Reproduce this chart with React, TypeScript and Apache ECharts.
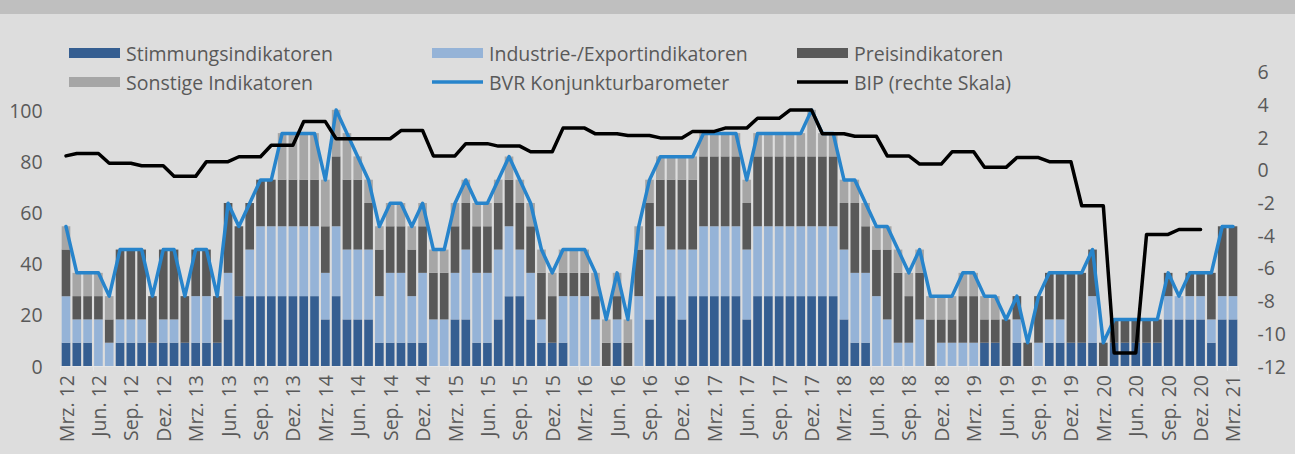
import React, { useEffect, useRef } from "react";
import * as echarts from "echarts";

// ---- categories (monthly, Mrz. 12 .. Mrz. 21) ----
const MONTH_NAMES = ["Jan.", "Feb.", "Mrz.", "Apr.", "Mai", "Jun.", "Jul.", "Aug.", "Sep.", "Okt.", "Nov.", "Dez."];
const START_MONTH = 2; // Mrz.
const START_YEAR = 12;
const N_MONTHS = 109;
const categories: string[] = [];
for (let k = 0; k < N_MONTHS; k++) {
  const m = (START_MONTH + k) % 12;
  const y = START_YEAR + Math.floor((START_MONTH + k) / 12);
  categories.push(`${MONTH_NAMES[m]} ${y}`);
}

// ---- bar components (share of indicators, %) ----
const stimmung = [
  9.1, 9.1, 9.1, 0, 0, 9.1, 9.1, 9.1, 9.1, 9.1,
  9.1, 9.1, 9.1, 9.1, 9.1, 18.2, 27.3, 27.3, 27.3, 27.3,
  27.3, 27.3, 27.3, 27.3, 18.2, 27.3, 18.2, 18.2, 18.2, 9.1,
  9.1, 9.1, 9.1, 9.1, 0, 0, 18.2, 18.2, 9.1, 9.1,
  18.2, 27.3, 27.3, 18.2, 9.1, 9.1, 9.1, 0, 0, 0,
  0, 9.1, 0, 0, 18.2, 27.3, 27.3, 18.2, 27.3, 27.3,
  27.3, 27.3, 27.3, 18.2, 27.3, 27.3, 27.3, 27.3, 27.3, 27.3,
  27.3, 27.3, 18.2, 9.1, 9.1, 0, 0, 0, 0, 0,
  0, 0, 0, 0, 0, 9.1, 9.1, 0, 9.1, 0,
  0, 9.1, 9.1, 9.1, 9.1, 9.1, 0, 9.1, 9.1, 9.1,
  9.1, 9.1, 18.2, 18.2, 18.2, 18.2, 9.1, 18.2, 18.2,
];
const industrie = [
  18.2, 9.1, 9.1, 18.2, 9.1, 9.1, 9.1, 9.1, 0, 9.1,
  9.1, 0, 18.2, 18.2, 0, 18.2, 0, 18.2, 27.3, 27.3,
  27.3, 27.3, 27.3, 27.3, 18.2, 27.3, 27.3, 27.3, 27.3, 18.2,
  27.3, 27.3, 18.2, 27.3, 18.2, 18.2, 18.2, 27.3, 27.3, 27.3,
  27.3, 27.3, 18.2, 18.2, 9.1, 0, 18.2, 27.3, 27.3, 18.2,
  0, 9.1, 0, 27.3, 27.3, 27.3, 18.2, 27.3, 18.2, 27.3,
  27.3, 27.3, 27.3, 27.3, 27.3, 27.3, 27.3, 27.3, 27.3, 27.3,
  27.3, 27.3, 27.3, 27.3, 27.3, 27.3, 18.2, 9.1, 9.1, 18.2,
  0, 9.1, 9.1, 9.1, 9.1, 0, 0, 0, 9.1, 0,
  9.1, 9.1, 9.1, 0, 0, 18.2, 0, 0, 0, 0,
  0, 0, 9.1, 9.1, 9.1, 9.1, 9.1, 9.1, 9.1,
];
const preis = [
  18.2, 9.1, 9.1, 9.1, 9.1, 27.3, 27.3, 27.3, 18.2, 27.3,
  27.3, 18.2, 18.2, 18.2, 18.2, 27.3, 27.3, 18.2, 18.2, 18.2,
  18.2, 18.2, 18.2, 18.2, 18.2, 27.3, 27.3, 27.3, 18.2, 18.2,
  18.2, 18.2, 18.2, 18.2, 18.2, 18.2, 18.2, 18.2, 18.2, 18.2,
  18.2, 18.2, 18.2, 18.2, 18.2, 18.2, 9.1, 9.1, 9.1, 9.1,
  9.1, 9.1, 9.1, 18.2, 18.2, 18.2, 27.3, 27.3, 27.3, 27.3,
  27.3, 27.3, 27.3, 18.2, 27.3, 27.3, 27.3, 27.3, 27.3, 27.3,
  27.3, 27.3, 18.2, 27.3, 18.2, 18.2, 27.3, 27.3, 18.2, 18.2,
  18.2, 9.1, 9.1, 18.2, 18.2, 9.1, 9.1, 18.2, 9.1, 9.1,
  18.2, 18.2, 18.2, 27.3, 27.3, 18.2, 9.1, 9.1, 9.1, 9.1,
  9.1, 9.1, 9.1, 0, 9.1, 9.1, 18.2, 27.3, 27.3,
];
const sonstige = [
  9.1, 9.1, 9.1, 9.1, 9.1, 0, 0, 0, 0, 0,
  0, 0, 0, 0, 0, 0, 0, 0, 0, 0,
  18.2, 18.2, 18.2, 18.2, 18.2, 18.2, 18.2, 9.1, 9.1, 9.1,
  9.1, 9.1, 9.1, 9.1, 9.1, 9.1, 9.1, 9.1, 9.1, 9.1,
  9.1, 9.1, 9.1, 9.1, 9.1, 9.1, 9.1, 9.1, 9.1, 9.1,
  9.1, 9.1, 9.1, 9.1, 9.1, 9.1, 9.1, 9.1, 9.1, 9.1,
  9.1, 9.1, 9.1, 9.1, 9.1, 9.1, 9.1, 9.1, 9.1, 18.2,
  9.1, 9.1, 9.1, 9.1, 9.1, 9.1, 9.1, 9.1, 9.1, 9.1,
  9.1, 9.1, 9.1, 9.1, 9.1, 9.1, 9.1, 0, 0, 0,
  0, 0, 0, 0, 0, 0, 0, 0, 0, 0,
  0, 0, 0, 0, 0, 0, 0, 0, 0,
];

// ---- BVR Konjunkturbarometer (left scale) ----
const bvr = [
  54.5, 36.4, 36.4, 36.4, 27.3, 45.5, 45.5, 45.5, 27.3, 45.5,
  45.5, 27.3, 45.5, 45.5, 27.3, 63.6, 54.5, 63.6, 72.7, 72.7,
  90.9, 90.9, 90.9, 90.9, 72.7, 100, 90.9, 81.8, 72.7, 54.5,
  63.6, 63.6, 54.5, 63.6, 45.5, 45.5, 63.6, 72.7, 63.6, 63.6,
  72.7, 81.8, 72.7, 63.6, 45.5, 36.4, 45.5, 45.5, 45.5, 36.4,
  18.2, 36.4, 18.2, 54.5, 72.7, 81.8, 81.8, 81.8, 81.8, 90.9,
  90.9, 90.9, 90.9, 72.7, 90.9, 90.9, 90.9, 90.9, 90.9, 100,
  90.9, 90.9, 72.7, 72.7, 63.6, 54.5, 54.5, 45.5, 36.4, 45.5,
  27.3, 27.3, 27.3, 36.4, 36.4, 27.3, 27.3, 18.2, 27.3, 9.1,
  27.3, 36.4, 36.4, 36.4, 36.4, 45.5, 9.1, 18.2, 18.2, 18.2,
  18.2, 18.2, 36.4, 27.3, 36.4, 36.4, 36.4, 54.5, 54.5,
];

// ---- BIP (right scale, %) ----
const bip = [
  0.85, 1.0, 1.0, 1.0, 0.4, 0.4, 0.4, 0.25, 0.25, 0.25,
  -0.4, -0.4, -0.4, 0.5, 0.5, 0.5, 0.8, 0.8, 0.8, 1.5,
  1.5, 1.5, 2.95, 2.95, 2.95, 1.9, 1.9, 1.9, 1.9, 1.9,
  1.9, 2.4, 2.4, 2.4, 0.85, 0.85, 0.85, 1.6, 1.6, 1.6,
  1.45, 1.45, 1.45, 1.1, 1.1, 1.1, 2.55, 2.55, 2.55, 2.2,
  2.2, 2.2, 2.1, 2.1, 2.1, 1.95, 1.95, 1.95, 2.35, 2.35,
  2.35, 2.55, 2.55, 2.55, 3.15, 3.15, 3.15, 3.65, 3.65, 3.65,
  2.2, 2.2, 2.2, 2.05, 2.05, 2.05, 0.85, 0.85, 0.85, 0.35,
  0.35, 0.35, 1.1, 1.1, 1.1, 0.15, 0.15, 0.15, 0.75, 0.75,
  0.75, 0.5, 0.5, 0.5, -2.2, -2.2, -2.2, -11.2, -11.2, -11.2,
  -3.95, -3.95, -3.95, -3.65, -3.65, -3.65, null, null, null,
];

const LEFT_TICKS = [0, 20, 40, 60, 80, 100];

const FONT = "'Open Sans', 'Noto Sans', sans-serif";
const TEXT_COLOR = "#595959";
const C_STIMMUNG = "#355e91";
const C_INDUSTRIE = "#95b3d7";
const C_PREIS = "#595959";
const C_SONSTIGE = "#a6a6a6";
const C_BVR = "#2784cb";
const C_BIP = "#000000";

const LINE_ICON = "path://M0,0H52V3.4H0Z";

export default function App() {
  const ref = useRef<HTMLDivElement>(null);

  useEffect(() => {
    document.body.style.margin = "0";
    if (!ref.current) return;
    const chart = echarts.init(ref.current, undefined, { renderer: "svg" });

    const legendText = { fontSize: 19.5, color: TEXT_COLOR, fontFamily: FONT, padding: [0, 0, 0, 1] };
    const legendCommon = {
      orient: "vertical" as const,
      top: 38,
      itemWidth: 51,
      itemHeight: 10,
      itemGap: 9,
      textStyle: legendText,
      selectedMode: false,
    };

    const barCommon = {
      type: "bar" as const,
      stack: "ind",
      barCategoryGap: "20%",
      yAxisIndex: 0,
    };

    chart.setOption({
      animation: false,
      backgroundColor: "#dddddd",
      textStyle: { fontFamily: FONT },
      grid: { left: 60.6, right: 56.6, top: 71.7, bottom: 88, containLabel: false },
      graphic: [
        { type: "rect", shape: { x: 0, y: 0, width: 1295, height: 14 }, style: { fill: "#bfbfbf" }, silent: true },
      ],
      legend: [
        {
          ...legendCommon,
          left: 64,
          data: [
            { name: "Stimmungsindikatoren", icon: "rect" },
            { name: "Sonstige Indikatoren", icon: "rect" },
          ],
        },
        {
          ...legendCommon,
          left: 427,
          data: [
            { name: "Industrie-/Exportindikatoren", icon: "rect" },
            { name: "BVR Konjunkturbarometer", icon: LINE_ICON },
          ],
        },
        {
          ...legendCommon,
          left: 792,
          data: [
            { name: "Preisindikatoren", icon: "rect" },
            { name: "BIP (rechte Skala)", icon: LINE_ICON },
          ],
        },
      ],
      xAxis: {
        type: "category",
        data: categories,
        boundaryGap: true,
        axisLine: { show: true, lineStyle: { color: "#e6e6e6", width: 1 } },
        axisTick: { show: true, interval: 2, length: 5, lineStyle: { color: "#e6e6e6" } },
        axisLabel: {
          interval: 2,
          rotate: 90,
          margin: 9,
          color: TEXT_COLOR,
          fontSize: 19.5,
          fontFamily: FONT,
        },
        splitLine: { show: false },
      },
      yAxis: [
        {
          type: "value",
          min: 0,
          max: 115,
          interval: 20,
          splitLine: { show: false },
          axisLine: { show: false },
          axisTick: { show: false },
          axisLabel: {
            margin: 18,
            color: TEXT_COLOR,
            fontSize: 19.5,
            fontFamily: FONT,
            formatter: (v: number) => (LEFT_TICKS.indexOf(Math.round(v)) >= 0 && Math.abs(v - Math.round(v)) < 1e-6 ? String(Math.round(v)) : ""),
          },
        },
        {
          type: "value",
          position: "right",
          min: -12,
          max: 6,
          interval: 2,
          splitLine: { show: false },
          axisLine: { show: false },
          axisTick: { show: false },
          axisLabel: { margin: 19, color: TEXT_COLOR, fontSize: 19.5, fontFamily: FONT },
        },
      ],
      series: [
        { ...barCommon, name: "Stimmungsindikatoren", data: stimmung, itemStyle: { color: C_STIMMUNG } },
        { ...barCommon, name: "Industrie-/Exportindikatoren", data: industrie, itemStyle: { color: C_INDUSTRIE } },
        { ...barCommon, name: "Preisindikatoren", data: preis, itemStyle: { color: C_PREIS } },
        { ...barCommon, name: "Sonstige Indikatoren", data: sonstige, itemStyle: { color: C_SONSTIGE } },
        {
          type: "line",
          name: "BVR Konjunkturbarometer",
          data: bvr,
          yAxisIndex: 0,
          symbol: "none",
          itemStyle: { color: C_BVR },
          lineStyle: { color: C_BVR, width: 3.5, join: "round", cap: "round" },
          z: 3,
        },
        {
          type: "line",
          name: "BIP (rechte Skala)",
          data: bip,
          yAxisIndex: 1,
          symbol: "none",
          connectNulls: false,
          itemStyle: { color: C_BIP },
          lineStyle: { color: C_BIP, width: 3.5, join: "round", cap: "round" },
          z: 4,
        },
      ],
    });

    return () => {
      chart.dispose();
    };
  }, []);

  return <div ref={ref} style={{ width: 1295, height: 454 }} />;
}
